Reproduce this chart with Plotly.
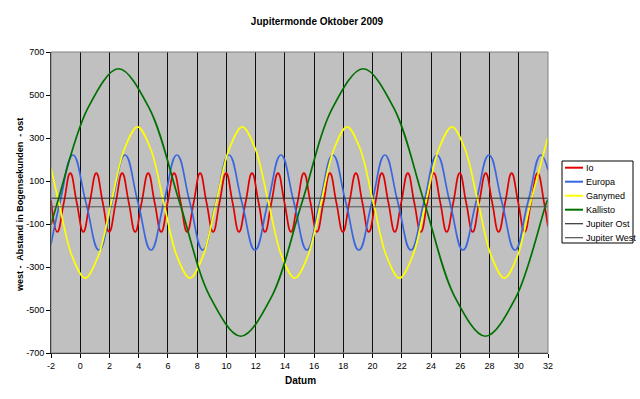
import plotly.graph_objects as go

# ---- data (days, arcseconds) ----
io_x = [-2.00, -1.57, -1.12, -0.68, -0.24, 0.21, 0.65, 1.10, 1.54, 1.98, 2.43, 2.87, 3.32, 3.76,
        4.20, 4.65, 5.09, 5.54, 5.98, 6.42, 6.87, 7.31, 7.76, 8.20, 8.64, 9.09, 9.53, 9.98,
        10.42, 10.86, 11.31, 11.75, 12.20, 12.64, 13.08, 13.53, 13.97, 14.42, 14.86, 15.30,
        15.75, 16.19, 16.64, 17.08, 17.52, 17.97, 18.41, 18.86, 19.30, 19.74, 20.19, 20.63,
        21.08, 21.52, 21.96, 22.41, 22.85, 23.30, 23.74, 24.18, 24.63, 25.07, 25.52, 25.96,
        26.40, 26.85, 27.29, 27.74, 28.18, 28.62, 29.07, 29.51, 29.96, 30.40, 30.84, 31.29,
        31.73, 32.00]
io_y = [10, -137, 0, 137, 0, -137, 0, 137, 0, -137, 0, 137, 0, -137,
        0, 137, 0, -137, 0, 137, 0, -137, 0, 137, 0, -137, 0, 137,
        0, -137, 0, 137, 0, -137, 0, 137, 0, -137, 0, 137,
        0, -137, 0, 137, 0, -137, 0, 137, 0, -137, 0, 137,
        0, -137, 0, 137, 0, -137, 0, 137, 0, -137, 0, 137,
        0, -137, 0, 137, 0, -137, 0, 137, 0, -137, 0, 137,
        0, -112]

europa_x = [-2.00, -1.39, -0.50, 0.39, 1.28, 2.17, 3.06, 3.95, 4.84, 5.72, 6.61, 7.50, 8.39,
            9.28, 10.17, 11.06, 11.95, 12.84, 13.73, 14.62, 15.51, 16.39, 17.28, 18.17, 19.06,
            19.95, 20.84, 21.73, 22.62, 23.51, 24.40, 25.29, 26.18, 27.07, 27.96, 28.85, 29.74,
            30.62, 31.51, 32.00]
europa_y = [-195, 0, 221, 0, -221, 0, 221, 0, -221, 0, 221, 0, -221,
            0, 221, 0, -221, 0, 221, 0, -221, 0, 221, 0, -221,
            0, 221, 0, -221, 0, 221, 0, -221, 0, 221, 0, -221,
            0, 221, 150]

ganymed_x = [-2.00, -1.46, -0.56, 0.33, 1.23, 2.13, 3.02, 3.92, 4.82, 5.71, 6.61, 7.50, 8.40,
             9.30, 10.19, 11.09, 11.98, 12.88, 13.78, 14.67, 15.57, 16.47, 17.36, 18.26, 19.15,
             20.05, 20.95, 21.84, 22.74, 23.64, 24.53, 25.43, 26.32, 27.22, 28.12, 29.01, 29.91,
             30.81, 32.00]
ganymed_y = [160, 0, -249, -352, -249, 0, 249, 352, 249, 0, -249, -352, -249,
             0, 249, 352, 249, 0, -249, -352, -249, 0, 249, 352, 249,
             0, -249, -352, -249, 0, 249, 352, 249, 0, -249, -352, -249,
             0, 304]

kallisto_x = [-2.00, -1.56, 0.53, 2.62, 4.71, 6.80, 8.89, 10.99, 13.08, 15.17, 17.26, 19.36,
              21.45, 23.54, 25.63, 27.72, 29.81, 31.90, 32.00]
kallisto_y = [-103, 0, 440, 622, 440, 0, -440, -622, -440, 0, 440, 622,
              440, 0, -440, -622, -440, 0, 13]

jupiter_x = [-2, 32]
jupiter_ost_y = [20, 20]
jupiter_west_y = [-20, -20]

x_ticks = list(range(-2, 33, 2))
y_ticks = list(range(-700, 701, 200))

names = ["Io", "Europa", "Ganymed", "Kallisto", "Jupiter Ost", "Jupiter West"]
colors = ["#E00000", "#3A66E0", "#FFFF00", "#007000", "#303030", "#505050"]
smooth = [1.3, 1.3, 1.0, 1.0]

FONT = "Liberation Sans, Arial, sans-serif"
W, H = 640, 399
L, R, T, B = 51, 92, 52, 46
PW, PH = W - L - R, H - T - B


def px(xp):
    return (xp - L) / PW


def py(yp):
    return (H - B - yp) / PH


fig = go.Figure()
series = [(io_x, io_y), (europa_x, europa_y), (ganymed_x, ganymed_y), (kallisto_x, kallisto_y)]
for (xs, ys), n, c, s in zip(series, names[:4], colors[:4], smooth):
    fig.add_trace(go.Scatter(x=xs, y=ys, mode="lines", name=n,
                             line=dict(color=c, width=1.7, shape="spline", smoothing=s),
                             showlegend=False))
fig.add_trace(go.Scatter(x=jupiter_x, y=jupiter_ost_y, mode="lines", name=names[4],
                         line=dict(color=colors[4], width=1), showlegend=False))
fig.add_trace(go.Scatter(x=jupiter_x, y=jupiter_west_y, mode="lines", name=names[5],
                         line=dict(color=colors[5], width=1), showlegend=False))

shapes = []
annotations = []
# plot border
shapes.append(dict(type="rect", xref="paper", yref="paper", x0=0, x1=1, y0=0, y1=1,
                   line=dict(color="#808080", width=1), layer="above"))
# manual legend
shapes.append(dict(type="rect", xref="paper", yref="paper", x0=px(562), x1=px(633),
                   y0=py(243), y1=py(161), line=dict(color="#000000", width=1),
                   fillcolor="white"))
for i, (n, c) in enumerate(zip(names, colors)):
    yc = 167.7 + 14 * i
    shapes.append(dict(type="line", xref="paper", yref="paper", x0=px(565), x1=px(583),
                       y0=py(yc), y1=py(yc), line=dict(color=c, width=2 if i < 4 else 1.2)))
    annotations.append(dict(xref="paper", yref="paper", x=px(583.5), y=py(yc), text=n,
                            showarrow=False, xanchor="left", yanchor="middle",
                            font=dict(family=FONT, size=9, color="black")))

annotations.append(dict(xref="paper", yref="paper", x=px(20), y=py(205),
                        text="<b>west -\u00a0 Abstand in Bogensekunden \u00a0- ost</b>",
                        textangle=-90, showarrow=False, xanchor="center", yanchor="middle",
                        font=dict(family=FONT, size=9, color="black")))
annotations.append(dict(xref="paper", yref="paper", x=px(300), y=py(380),
                        text="<b>Datum</b>", showarrow=False, xanchor="center", yanchor="middle",
                        font=dict(family=FONT, size=10, color="black")))

fig.update_layout(
    width=W, height=H,
    margin=dict(l=L, r=R, t=T, b=B),
    paper_bgcolor="white", plot_bgcolor="#C0C0C0",
    title=dict(text="<b>Jupitermonde Oktober 2009</b>", x=317 / W, xref="container",
               xanchor="center", y=1 - 21 / H, yref="container", yanchor="middle",
               font=dict(family=FONT, size=10, color="black")),
    shapes=shapes, annotations=annotations,
    xaxis=dict(range=[-2, 32], tickvals=x_ticks, ticktext=[str(v) for v in x_ticks],
               showgrid=True, gridcolor="#101010", gridwidth=1, zeroline=False,
               showline=True, linecolor="#000000", linewidth=1,
               ticks="outside", ticklen=4, tickcolor="#000000",
               tickfont=dict(family=FONT, size=9, color="black")),
    yaxis=dict(range=[-700, 700], tickvals=y_ticks, ticktext=[str(v) for v in y_ticks],
               showgrid=False, zeroline=False,
               showline=True, linecolor="#000000", linewidth=1,
               ticks="outside", ticklen=4, tickcolor="#000000",
               tickfont=dict(family=FONT, size=9, color="black")),
    showlegend=False,
)

fig.write_html("out.html", config={"displayModeBar": False})

# remove the default page margin so the figure sits at the window's top-left corner
with open("out.html", "r", encoding="utf-8") as f:
    html = f.read()
html = html.replace("<head>", "<head><style>html,body{margin:0;padding:0;overflow:hidden;}</style>", 1)
with open("out.html", "w", encoding="utf-8") as f:
    f.write(html)
